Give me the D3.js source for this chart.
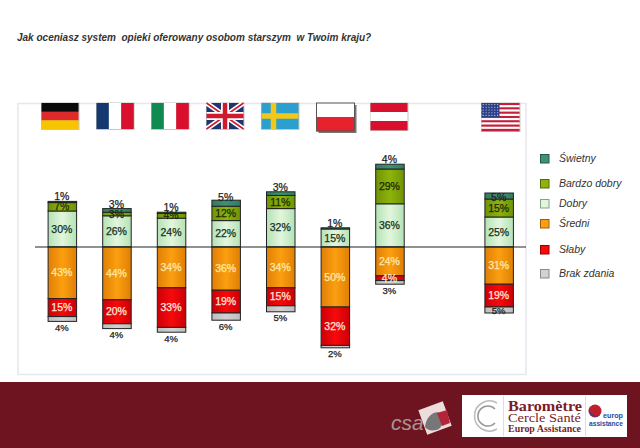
<!DOCTYPE html>
<meta charset="utf-8">
<style>
html, body { margin: 0; padding: 0; background: #fff; }
svg { display: block; font-family: "Liberation Sans", Arial, sans-serif; }
.lab { font-size: 10.5px; text-anchor: middle; stroke-width: 0.25px; paint-order: stroke; }
.leg { font-size: 10.5px; font-style: italic; fill: #333; }
.serif { font-family: "Liberation Serif", serif; }
</style>
<body>
<script src="https://d3js.org/d3.v7.min.js"></script>
<script>
// data
var countries = ["DE", "FR", "IT", "UK", "SE", "PL", "AT", "-", "US"];
var title = "Jak oceniasz system\u00a0 opieki oferowany osobom starszym\u00a0 w Twoim kraju?";
var keys = ["Dobry", "Bardzo dobry", "Świetny", "Średni", "Słaby", "Brak zdania"];
var legendOrder = ["Świetny", "Bardzo dobry", "Dobry", "Średni", "Słaby", "Brak zdania"];

var swietny = [1, 3, 1, 5, 3, 1, 4, 0, 5];
var bardzoDobry = [7, 3, 4, 12, 11, 0, 29, 0, 15];
var dobry = [30, 26, 24, 22, 32, 15, 36, 0, 25];
var sredni = [43, 44, 34, 36, 34, 50, 24, 0, 31];
var slaby = [15, 20, 33, 19, 15, 32, 4, 0, 19];
var brak = [4, 4, 4, 6, 5, 2, 3, 0, 5];

var rows = countries.map(function(c, i) {
    return {
        country: c,
        "Świetny": swietny[i],
        "Bardzo dobry": bardzoDobry[i],
        "Dobry": dobry[i],
        "Średni": -sredni[i],
        "Słaby": -slaby[i],
        "Brak zdania": -brak[i]
    };
});

var colors = {
    "Świetny": ["#2f7d5f", "#3f9273"],
    "Bardzo dobry": ["#6f9404", "#8fb30c"],
    "Dobry": ["#b4e2b6", "#e2f6dc"],
    "Średni": ["#e07f06", "#fb9f10"],
    "Słaby": ["#cc0008", "#f60a0a"],
    "Brak zdania": ["#bdbdbd", "#d2d2d2"]
};
var textColor = {
    "Świetny": "#222", "Bardzo dobry": "#1c2a08", "Dobry": "#16301c",
    "Średni": "#ffe9a8", "Słaby": "#ffe6dc", "Brak zdania": "#222"
};
var legendY = { "Świetny": 159, "Bardzo dobry": 184, "Dobry": 204, "Średni": 224, "Słaby": 250, "Brak zdania": 274 };

var svg = d3.select("body").append("svg").attr("width", 640).attr("height", 448);
var defs = svg.append("defs");

keys.forEach(function(k, i) {
    var g = defs.append("linearGradient").attr("id", "grad" + i);
    g.append("stop").attr("offset", "0%").attr("stop-color", colors[k][0]);
    g.append("stop").attr("offset", "50%").attr("stop-color", colors[k][1]);
    g.append("stop").attr("offset", "100%").attr("stop-color", colors[k][0]);
});

// scales: 1.2px per percent around the zero line at y=247
var x = d3.scaleBand().domain(countries).range([22, 539.5]).padding(0.478);
var y = d3.scaleLinear().domain([-100, 100]).range([367, 127]);

// title
svg.append("text").attr("x", 17).attr("y", 41)
    .style("font-size", "10px").style("font-weight", "bold").style("font-style", "italic")
    .attr("fill", "#333").text(title);

// plot frame
svg.append("rect").attr("x", 18).attr("y", 103.5).attr("width", 508).attr("height", 271)
    .attr("fill", "none").attr("stroke", "#e6e6ee").attr("stroke-width", 1.5);

// flags
function stripes(g, list, vertical, w, h) {
    list.forEach(function(c, i) {
        g.append("rect")
            .attr("x", vertical ? i * w / list.length : 0)
            .attr("y", vertical ? 0 : i * h / list.length)
            .attr("width", vertical ? w / list.length + 0.3 : w)
            .attr("height", vertical ? h : h / list.length + 0.3)
            .attr("fill", c);
    });
}
var flagDraw = {
    DE: function(g, w, h) { stripes(g, ["#0a0a0a", "#dd2b2b", "#f7c500"], false, w, h); },
    FR: function(g, w, h) { stripes(g, ["#14386f", "#ffffff", "#d8102e"], true, w, h); },
    IT: function(g, w, h) { stripes(g, ["#0f8a50", "#ffffff", "#d8102e"], true, w, h); },
    UK: function(g, w, h) {
        g.append("rect").attr("width", w).attr("height", h).attr("fill", "#1c3670");
        g.append("path").attr("d", "M0,0L" + w + "," + h + "M" + w + ",0L0," + h).attr("stroke", "#fff").attr("stroke-width", 5);
        g.append("path").attr("d", "M0,0L" + w + "," + h + "M" + w + ",0L0," + h).attr("stroke", "#cf1b30").attr("stroke-width", 1.6);
        g.append("path").attr("d", "M" + w / 2 + ",0V" + h + "M0," + h / 2 + "H" + w).attr("stroke", "#fff").attr("stroke-width", 8);
        g.append("path").attr("d", "M" + w / 2 + ",0V" + h + "M0," + h / 2 + "H" + w).attr("stroke", "#cf1b30").attr("stroke-width", 4.5);
    },
    SE: function(g, w, h) {
        g.append("rect").attr("width", w).attr("height", h).attr("fill", "#2a9fd0");
        g.append("path").attr("d", "M12,0V" + h + "M0," + h / 2 + "H" + w).attr("stroke", "#f2c718").attr("stroke-width", 5.5);
    },
    PL: function(g, w, h) {
        g.append("rect").attr("x", 2).attr("y", 2).attr("width", w).attr("height", h).attr("fill", "#777");
        stripes(g, ["#ffffff", "#e8222c"], false, w, h);
        g.append("rect").attr("width", w).attr("height", h).attr("fill", "none").attr("stroke", "#555");
    },
    AT: function(g, w, h) { stripes(g, ["#d8102e", "#ffffff", "#d8102e"], false, w, h); },
    US: function(g, w, h) {
        var list = d3.range(13).map(function(i) { return i % 2 ? "#ffffff" : "#c4203c"; });
        stripes(g, list, false, w, h);
        g.append("rect").attr("width", 18).attr("height", 14).attr("fill", "#2b3f86");
        d3.range(5).forEach(function(r) {
            d3.range(6).forEach(function(c) {
                g.append("circle").attr("cx", 1.7 + c * 2.9).attr("cy", 1.6 + r * 2.7).attr("r", 0.55).attr("fill", "#dfe4f5");
            });
        });
    }
};
var flagBox = {
    DE: [41.5, 103, 37, 26], FR: [96.5, 103, 37, 26], IT: [151.5, 103, 37, 26], UK: [206.5, 103, 37, 26],
    SE: [261.5, 103, 37, 26], PL: [316.5, 103, 38, 28], AT: [370.5, 103, 37, 27], US: [481.5, 103, 38, 28]
};
Object.keys(flagBox).forEach(function(k) {
    var b = flagBox[k];
    var g = svg.append("g").attr("transform", "translate(" + b[0] + "," + b[1] + ")");
    if (k !== "PL") {
        // soft edge round the flag
        g.append("rect").attr("x", -0.5).attr("y", -0.5).attr("width", b[2] + 1.5).attr("height", b[3] + 1.5)
            .attr("fill", "#c9c6c0");
    }
    flagDraw[k](g, b[2], b[3]);
});

// stacked bars
var stack = d3.stack().keys(keys).offset(d3.stackOffsetDiverging);
var series = stack(rows);

series.forEach(function(s, i) {
    svg.append("g").selectAll("rect")
        .data(s.filter(function(d) { return d[1] !== d[0]; }))
        .enter().append("rect")
        .attr("x", function(d) { return x(d.data.country); })
        .attr("y", function(d) { return y(d[1]); })
        .attr("width", x.bandwidth())
        .attr("height", function(d) { return y(d[0]) - y(d[1]); })
        .attr("fill", "url(#grad" + i + ")")
        .attr("stroke", "#222")
        .attr("stroke-width", 1);
});

// zero line
svg.append("line").attr("x1", 35).attr("x2", 526).attr("y1", y(0)).attr("y2", y(0))
    .attr("stroke", "#222").attr("stroke-width", 1);

// labels: tiny end segments sit outside the bar
series.forEach(function(s) {
    var k = s.key;
    svg.append("g").selectAll("text")
        .data(s.filter(function(d) { return d[1] !== d[0]; }))
        .enter().append("text")
        .attr("class", "lab")
        .attr("x", function(d) { return x(d.data.country) + x.bandwidth() / 2 - 0.5; })
        .attr("y", function(d) {
            var c = d.data.country;
            if (k === "Świetny") {
                if (c === "US") return y(d[1]) + 7.5;
                if (c === "UK") return y(d[1]) + 1;
                return y(d[1]) - 1;
            }
            if (k === "Brak zdania") {
                if (c === "US") return y(d[1]) + 7;
                return y(d[0]) + 9.5;
            }
            return (y(d[0]) + y(d[1])) / 2 + 3.5;
        })
        .style("font-size", (k === "Brak zdania") ? "9.5px" : null)
        .attr("fill", textColor[k])
        .attr("stroke", textColor[k])
        .text(function(d) { return Math.abs(d[1] - d[0]) + "%"; });
});

// legend
legendOrder.forEach(function(k) {
    var ly = legendY[k];
    svg.append("rect").attr("x", 540.5).attr("y", ly - 4.5).attr("width", 8.5).attr("height", 8.5)
        .attr("fill", colors[k][1]).attr("stroke", d3.color(colors[k][0]).darker(0.9));
    svg.append("text").attr("class", "leg").attr("x", 559).attr("y", ly + 3).text(k);
});

// footer band
svg.append("rect").attr("x", 0).attr("y", 382).attr("width", 640).attr("height", 66).attr("fill", "#6e1420");

// csa logo
svg.append("rect").attr("x", 422).attr("y", 405).attr("width", 26).attr("height", 26)
    .attr("fill", "#ecdcdc").attr("transform", "rotate(-20 435 418)");
svg.append("path").attr("d", "M425,427C426,416 435,410 440,413C446,418 442,430 436,430C431,431 427,430 425,427Z").attr("fill", "#777");
svg.append("path").attr("d", "M437,413L447,410L450,423L442,426Z").attr("fill", "#b3263a");
svg.append("text").attr("x", 391).attr("y", 430).attr("fill", "#a89496")
    .style("font-size", "21px").style("font-style", "italic").text("csa");

// barometer logo panel
svg.append("rect").attr("x", 462).attr("y", 395).attr("width", 165).attr("height", 42).attr("fill", "#fff");
svg.append("line").attr("x1", 503.5).attr("x2", 503.5).attr("y1", 396).attr("y2", 436).attr("stroke", "#ddd");
svg.append("line").attr("x1", 585.5).attr("x2", 585.5).attr("y1", 396).attr("y2", 436).attr("stroke", "#ddd");
svg.append("path").attr("d", "M497,403A15,15 0 1 0 497,429").attr("fill", "none").attr("stroke", "#bbb").attr("stroke-width", 1.5);
svg.append("path").attr("d", "M495,409A10,10 0 1 0 495,423").attr("fill", "none").attr("stroke", "#999").attr("stroke-width", 1.5);
svg.append("text").attr("class", "serif").attr("x", 508).attr("y", 411).attr("fill", "#7a1c28")
    .attr("textLength", 74).attr("lengthAdjust", "spacingAndGlyphs")
    .style("font-size", "15.5px").style("font-weight", "bold").text("Baromètre");
svg.append("text").attr("class", "serif").attr("x", 508).attr("y", 422).attr("fill", "#7a1c28")
    .attr("textLength", 73).attr("lengthAdjust", "spacingAndGlyphs")
    .style("font-size", "13px").text("Cercle Santé");
svg.append("text").attr("class", "serif").attr("x", 508).attr("y", 432).attr("fill", "#7a1c28")
    .attr("textLength", 73).attr("lengthAdjust", "spacingAndGlyphs")
    .style("font-size", "10px").style("font-weight", "bold").text("Europ Assistance");
svg.append("circle").attr("cx", 595).attr("cy", 411).attr("r", 6.5).attr("fill", "#c0202e");
svg.append("path").attr("d", "M590,406A6.5,6.5 0 1 0 601,414A7,7 0 0 1 590,406Z").attr("fill", "#1e4a9c");
svg.append("text").attr("x", 603).attr("y", 417.5).attr("fill", "#1e4a9c")
    .attr("textLength", 20).attr("lengthAdjust", "spacingAndGlyphs")
    .style("font-size", "7px").style("font-weight", "bold").text("europ");
svg.append("text").attr("x", 589).attr("y", 425.5).attr("fill", "#1e4a9c")
    .attr("textLength", 34).attr("lengthAdjust", "spacingAndGlyphs")
    .style("font-size", "7px").style("font-weight", "bold").text("assistance");
</script>
</body>
